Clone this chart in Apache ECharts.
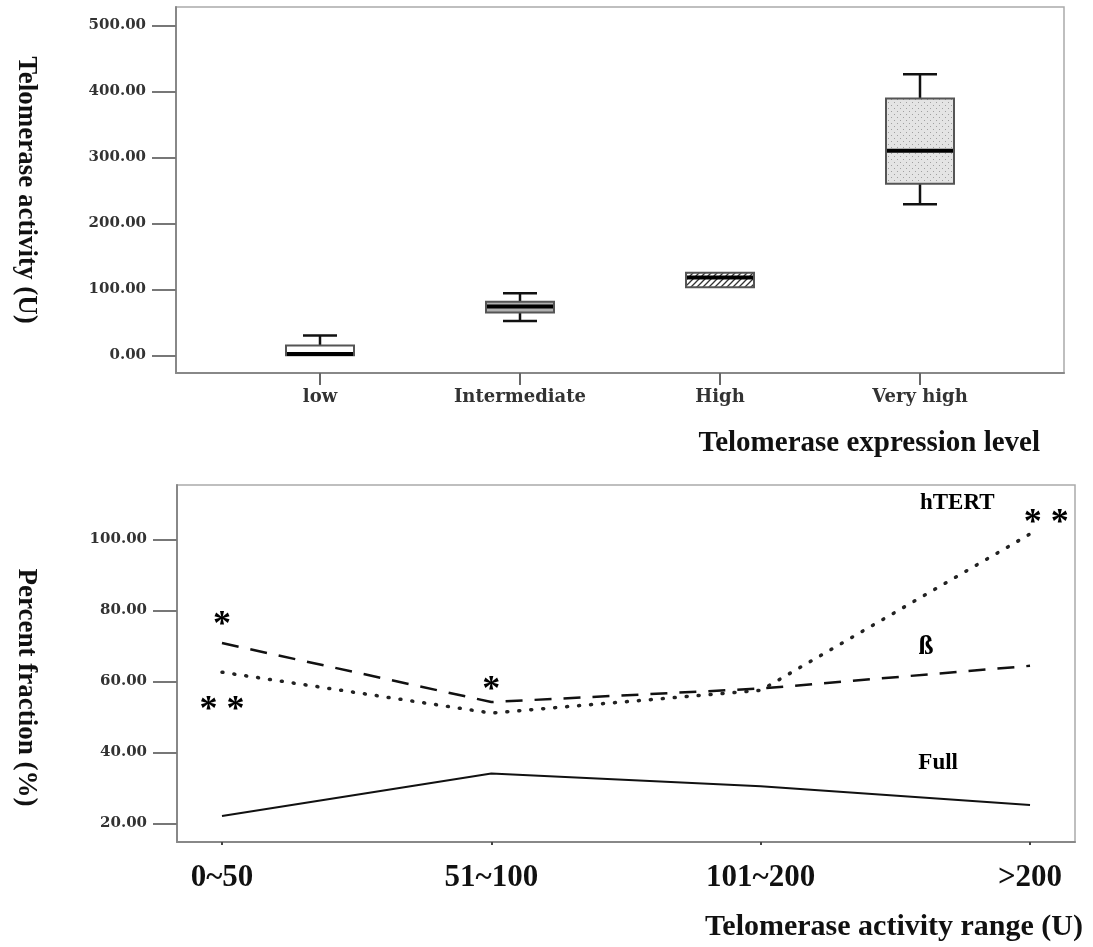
<!DOCTYPE html>
<html>
<head>
<meta charset="utf-8">
<title>Telomerase activity and expression</title>
<script src="https://cdn.jsdelivr.net/npm/echarts@6.0.0/dist/echarts.min.js"></script>
<style>
  * { margin: 0; padding: 0; }
  body { background: #fff; overflow: hidden; }
  #chart { width: 1093px; height: 947px; }
</style>
</head>
<body>
<div id="chart"></div>
<script>
// top panel: box plots, [min, Q1, median, Q3, max]
var levels = ['low', 'Intermediate', 'High', 'Very high'];
var levelPos = [1, 2, 3, 4];
var boxLow = [0, 0, 2, 15, 30];
var boxIntermediate = [52, 65, 74, 81, 94];
var boxHigh = [103, 103, 118, 125, 125];
var boxVeryHigh = [229, 260, 310, 389, 426];
var activityTicks = [0, 100, 200, 300, 400, 500];

// bottom panel: percent fraction by activity range
var ranges = ['0~50', '51~100', '101~200', '>200'];
var rangePos = [0, 1, 2, 3];
var fullPct = [22.1, 34.1, 30.5, 25.2];
var betaPct = [70.8, 54.2, 58.0, 64.4];
var htertPct = [62.6, 51.1, 57.5, 101.5];
var percentTicks = [20, 40, 60, 80, 100];

// significance marks and line names (data coords of bottom panel)
var noteText = ['*', '* *', '*', '* *'];
var notePos = [[0, 78.6], [0, 54.7], [1, 60.3], [3.06, 107.3]];
var lineNames = ['hTERT', 'ß', 'Full'];
var lineNamePos = [[2.73, 110.2], [2.614, 69.6], [2.659, 37]];
var lineNameSize = [23, 27, 23];

function makePattern(kind) {
  var c = document.createElement('canvas');
  c.width = 6; c.height = 6;
  var g = c.getContext('2d');
  if (kind === 'dots') {
    g.fillStyle = '#e4e4e4'; g.fillRect(0, 0, 6, 6);
    g.fillStyle = '#a0a0a0';
    g.fillRect(0, 0, 1, 1); g.fillRect(3, 3, 1, 1);
  } else {
    g.fillStyle = '#fff'; g.fillRect(0, 0, 6, 6);
    g.strokeStyle = '#333'; g.lineWidth = 1.3;
    g.beginPath();
    g.moveTo(0, 6); g.lineTo(6, 0);
    g.moveTo(-1, 1); g.lineTo(1, -1);
    g.moveTo(5, 7); g.lineTo(7, 5);
    g.stroke();
  }
  return { image: c, repeat: 'repeat' };
}

var boxFills = ['#ffffff', '#b0b0b0', makePattern('hatch'), makePattern('dots')];
var boxData = [boxLow, boxIntermediate, boxHigh, boxVeryHigh].map(function (b, i) {
  return [levelPos[i]].concat(b);
});

function renderBox(params, api) {
  var x = api.value(0);
  var pMin = api.coord([x, api.value(1)]);
  var pQ1 = api.coord([x, api.value(2)]);
  var pMed = api.coord([x, api.value(3)]);
  var pQ3 = api.coord([x, api.value(4)]);
  var pMax = api.coord([x, api.value(5)]);
  var w = api.size([0.34, 0])[0];
  var cx = pMed[0];
  var half = w / 2, cap = w / 4;
  var ws = { stroke: '#111', lineWidth: 2.5 };
  var kids = [];
  if (pMax[1] < pQ3[1] - 0.5) {
    kids.push({ type: 'line', shape: { x1: cx, y1: pMax[1], x2: cx, y2: pQ3[1] }, style: ws });
    kids.push({ type: 'line', shape: { x1: cx - cap, y1: pMax[1], x2: cx + cap, y2: pMax[1] }, style: ws });
  }
  if (pMin[1] > pQ1[1] + 0.5) {
    kids.push({ type: 'line', shape: { x1: cx, y1: pQ1[1], x2: cx, y2: pMin[1] }, style: ws });
    kids.push({ type: 'line', shape: { x1: cx - cap, y1: pMin[1], x2: cx + cap, y2: pMin[1] }, style: ws });
  }
  kids.push({
    type: 'rect',
    shape: { x: cx - half, y: pQ3[1], width: w, height: pQ1[1] - pQ3[1] },
    style: { fill: boxFills[params.dataIndex], stroke: '#555', lineWidth: 2 }
  });
  kids.push({
    type: 'line',
    shape: { x1: cx - half + 1, y1: pMed[1], x2: cx + half - 1, y2: pMed[1] },
    style: { stroke: '#000', lineWidth: 4 }
  });
  return { type: 'group', children: kids };
}

function toPoints(ys) {
  return rangePos.map(function (x, i) { return [x, ys[i]]; });
}

var serif = 'Liberation Serif';
var wide = 'DejaVu Serif';

var chart = echarts.init(document.getElementById('chart'));
chart.setOption({
  animation: false,
  backgroundColor: '#fff',
  grid: [
    { left: 176, top: 7, width: 888, height: 366, show: true, borderColor: '#aaa', borderWidth: 1.5 },
    { left: 177, top: 485, width: 898, height: 357, show: true, borderColor: '#aaa', borderWidth: 1.5 }
  ],
  xAxis: [
    {
      type: 'value', gridIndex: 0, min: 0.28, max: 4.72,
      splitLine: { show: false },
      axisLine: { onZero: false, lineStyle: { color: '#888', width: 2 } },
      axisTick: { customValues: levelPos, length: 12, lineStyle: { color: '#666', width: 2 } },
      axisLabel: {
        customValues: levelPos, margin: 15,
        formatter: function (v) { return levels[levelPos.indexOf(v)]; },
        fontFamily: wide, fontSize: 18, fontWeight: 'bold', color: '#333'
      },
      name: 'Telomerase expression level', nameLocation: 'end', nameGap: -24,
      nameTextStyle: {
        align: 'right', verticalAlign: 'top', padding: [56, 0, 0, 0],
        fontFamily: serif, fontSize: 29, fontWeight: 'bold', color: '#111'
      }
    },
    {
      type: 'value', gridIndex: 1, min: -0.167, max: 3.167,
      splitLine: { show: false },
      axisLine: { onZero: false, lineStyle: { color: '#888', width: 2 } },
      axisTick: { customValues: rangePos, length: 3, lineStyle: { color: '#444', width: 2 } },
      axisLabel: {
        customValues: rangePos, margin: 20,
        formatter: function (v) { return ranges[rangePos.indexOf(v)]; },
        fontFamily: serif, fontSize: 31, fontWeight: 'bold', color: '#111'
      },
      name: 'Telomerase activity range (U)', nameLocation: 'end', nameGap: 8,
      nameTextStyle: {
        align: 'right', verticalAlign: 'top', padding: [70, 0, 0, 0],
        fontFamily: serif, fontSize: 30, fontWeight: 'bold', color: '#111'
      }
    }
  ],
  yAxis: [
    {
      type: 'value', gridIndex: 0, min: -26.8, max: 527.7,
      splitLine: { show: false },
      axisLine: { onZero: false, lineStyle: { color: '#888', width: 2 } },
      axisTick: { customValues: activityTicks, length: 24, lineStyle: { color: '#777', width: 2 } },
      axisLabel: {
        customValues: activityTicks, margin: 30,
        formatter: function (v) { return v.toFixed(2); },
        fontFamily: wide, fontSize: 15, fontWeight: 'bold', color: '#333'
      },
      name: 'Telomerase activity (U)', nameLocation: 'middle', nameRotate: -90, nameGap: 137,
      nameTextStyle: { fontFamily: serif, fontSize: 27, fontWeight: 'bold', color: '#111' }
    },
    {
      type: 'value', gridIndex: 1, min: 14.8, max: 115.3,
      splitLine: { show: false },
      axisLine: { onZero: false, lineStyle: { color: '#888', width: 2 } },
      axisTick: { customValues: percentTicks, length: 24, lineStyle: { color: '#777', width: 2 } },
      axisLabel: {
        customValues: percentTicks, margin: 30,
        formatter: function (v) { return v.toFixed(2); },
        fontFamily: wide, fontSize: 15, fontWeight: 'bold', color: '#333'
      },
      name: 'Percent fraction (%)', nameLocation: 'middle', nameRotate: -90, nameGap: 138,
      nameTextStyle: { fontFamily: serif, fontSize: 27, fontWeight: 'bold', color: '#111', padding: [0, 0, 0, 48] }
    }
  ],
  series: [
    {
      type: 'custom', name: 'activity', xAxisIndex: 0, yAxisIndex: 0,
      renderItem: renderBox, data: boxData, silent: true,
      encode: { x: 0, y: [1, 2, 3, 4, 5] }
    },
    {
      type: 'line', name: 'Full', xAxisIndex: 1, yAxisIndex: 1, symbol: 'none',
      data: toPoints(fullPct), lineStyle: { color: '#111', width: 2 }
    },
    {
      type: 'line', name: 'ß', xAxisIndex: 1, yAxisIndex: 1, symbol: 'none',
      data: toPoints(betaPct), lineStyle: { color: '#111', width: 2.5, type: [17, 12] }
    },
    {
      type: 'line', name: 'hTERT', xAxisIndex: 1, yAxisIndex: 1, symbol: 'none',
      data: toPoints(htertPct), lineStyle: { color: '#222', width: 3.5, type: [1, 11], cap: 'round' }
    },
    {
      type: 'scatter', xAxisIndex: 1, yAxisIndex: 1, symbolSize: 1, silent: true,
      itemStyle: { color: 'rgba(0,0,0,0)', opacity: 1 },
      data: notePos.map(function (p, i) { return { name: noteText[i], value: p }; }),
      label: {
        show: true, position: 'inside', formatter: '{b}', offset: [0, 10],
        fontFamily: serif, fontSize: 36, fontWeight: 'bold', color: '#000'
      }
    },
    {
      type: 'scatter', xAxisIndex: 1, yAxisIndex: 1, symbolSize: 1, silent: true,
      itemStyle: { color: 'rgba(0,0,0,0)', opacity: 1 },
      data: lineNamePos.map(function (p, i) {
        return { name: lineNames[i], value: p, label: { fontSize: lineNameSize[i] } };
      }),
      label: {
        show: true, position: 'inside', formatter: '{b}',
        fontFamily: serif, fontSize: 23, fontWeight: 'bold', color: '#000'
      }
    }
  ]
});
</script>
</body>
</html>
